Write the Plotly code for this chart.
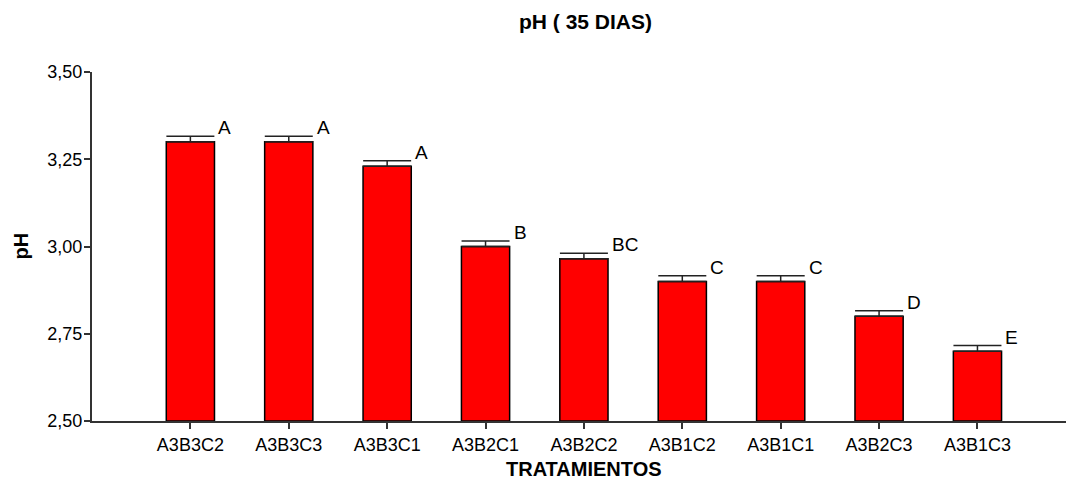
import plotly.graph_objects as go

categories = ["A3B3C2", "A3B3C3", "A3B3C1", "A3B2C1", "A3B2C2", "A3B1C2", "A3B1C1", "A3B2C3", "A3B1C3"]
ph_values = [3.30, 3.30, 3.23, 3.00, 2.965, 2.90, 2.90, 2.80, 2.70]
errors = [0.016, 0.016, 0.016, 0.016, 0.016, 0.016, 0.016, 0.016, 0.016]
letters = ["A", "A", "A", "B", "BC", "C", "C", "D", "E"]
y_ticks = [2.50, 2.75, 3.00, 3.25, 3.50]
y_tick_text = ["2,50", "2,75", "3,00", "3,25", "3,50"]

FONT = "Liberation Sans, Arial, sans-serif"

fig = go.Figure()
fig.add_trace(go.Bar(
    x=categories, y=[v - 2.5 for v in ph_values], base=2.5,
    marker=dict(color="#ff0000", line=dict(color="#000000", width=1.5)),
    width=0.49,
    error_y=dict(type="data", symmetric=False, array=errors, arrayminus=[0] * len(errors),
                 visible=True, color="#222222", thickness=1.5, width=24),
    showlegend=False,
))

for c, v, e, t in zip(categories, ph_values, errors, letters):
    fig.add_annotation(x=c, y=v + e, text=t, showarrow=False, xanchor="left", yanchor="bottom",
                       xshift=26, yshift=-4, font=dict(family=FONT, size=19, color="#000000"))

fig.update_layout(
    width=1066, height=486,
    margin=dict(l=92, r=0, t=72, b=65),
    paper_bgcolor="white", plot_bgcolor="white",
    font=dict(family=FONT, size=18, color="#000000"),
)
fig.add_annotation(text="<b>pH ( 35 DIAS)</b>", xref="paper", yref="paper", x=(585 - 92) / (1066 - 92),
                   y=1 + (72 - 21) / 349, xanchor="center", yanchor="middle", showarrow=False,
                   font=dict(family=FONT, size=21, color="#000000"))
fig.add_annotation(text="<b>TRATAMIENTOS</b>", xref="paper", yref="paper", x=(584 - 92) / (1066 - 92),
                   y=-(469 - 421) / 349, xanchor="center", yanchor="middle", showarrow=False,
                   font=dict(family=FONT, size=20, color="#000000"))
fig.add_annotation(text="<b>pH</b>", xref="paper", yref="paper", x=-(92 - 20) / (1066 - 92),
                   y=0.5, xanchor="center", yanchor="middle", textangle=-90, showarrow=False,
                   font=dict(family=FONT, size=20, color="#000000"))

fig.update_xaxes(
    type="category", range=[-1, 8.9],
    showline=True, linecolor="#333333", linewidth=2,
    ticks="outside", ticklen=6, tickwidth=1.5, tickcolor="#333333",
    showgrid=False, tickfont=dict(family=FONT, size=18, color="#000000"),
)
fig.update_yaxes(
    range=[2.5, 3.5], tickvals=y_ticks, ticktext=y_tick_text,
    showline=True, linecolor="#333333", linewidth=2,
    ticks="outside", ticklen=6, tickwidth=1.5, tickcolor="#333333",
    ticklabelstandoff=-2,
    showgrid=False, zeroline=False, tickfont=dict(family=FONT, size=18, color="#000000"),
)

fig.write_html("out.html")
